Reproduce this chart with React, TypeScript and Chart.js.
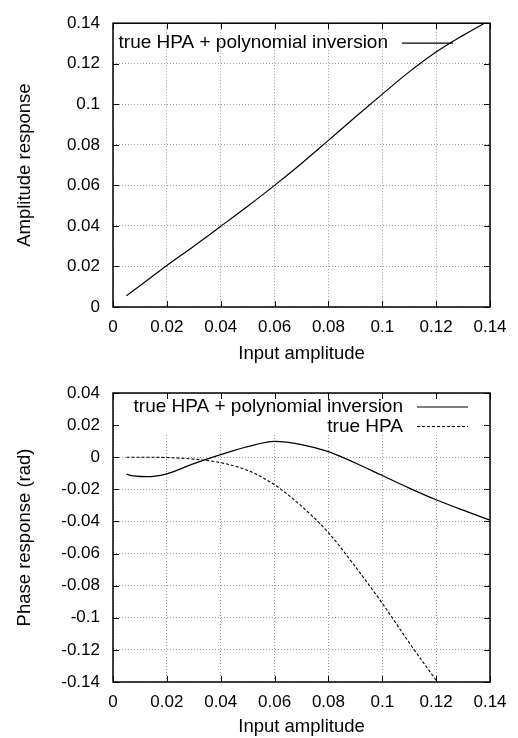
import React, { useEffect, useRef } from "react";
import { Chart, registerables } from "chart.js";

Chart.register(...registerables);

const FONT = "'Liberation Sans', Arial, Helvetica, sans-serif";

// ---------- data ----------
const xTicks = [0, 0.02, 0.04, 0.06, 0.08, 0.1, 0.12, 0.14];
const ampTicks = [0, 0.02, 0.04, 0.06, 0.08, 0.1, 0.12, 0.14];
const phaseTicks = [-0.14, -0.12, -0.1, -0.08, -0.06, -0.04, -0.02, 0, 0.02, 0.04];

const ampX = [0.005, 0.01, 0.02, 0.03, 0.04, 0.05, 0.06, 0.07, 0.08, 0.09, 0.1, 0.11, 0.12, 0.13, 0.14];
const ampY = [0.0055, 0.0105, 0.0205, 0.03, 0.0398, 0.0497, 0.06, 0.0708, 0.0822, 0.0937, 0.105, 0.116, 0.1258, 0.134, 0.1415];

const invX = [0.005, 0.0075, 0.01, 0.0125, 0.015, 0.02, 0.03, 0.04, 0.05, 0.06, 0.07, 0.08, 0.09, 0.1, 0.11, 0.12, 0.13, 0.14];
const invY = [-0.0106, -0.0116, -0.012, -0.0121, -0.0119, -0.0103, -0.004, 0.0016, 0.0066, 0.0099, 0.0079, 0.0035, -0.0036, -0.0114, -0.0192, -0.0265, -0.033, -0.0392];

const hpaX = [0.005, 0.01, 0.02, 0.03, 0.04, 0.05, 0.06, 0.07, 0.08, 0.09, 0.1, 0.11, 0.12];
const hpaY = [0, 0, -0.0002, -0.0012, -0.0034, -0.0082, -0.0172, -0.0305, -0.047, -0.0682, -0.091, -0.1155, -0.139];

const xTitle = "Input amplitude";
const ampTitle = "Amplitude response";
const phaseTitle = "Phase response (rad)";
const invLabel = "true HPA + polynomial inversion";
const hpaLabel = "true HPA";

// ---------- helpers ----------
const fmt = (v: number) => String(Number(v.toFixed(2)));

function gnuFrame(
  legend: { text: string; dash: number[] }[],
  legendRight: number,
  legendTop: number,
  legendStep: number,
  box: { right: number; bottom: number } | null
) {
  return {
    id: "gnuFrame",
    beforeDatasetsDraw(chart: any) {
      if (!box) return;
      const { ctx, chartArea: a } = chart;
      ctx.save();
      ctx.fillStyle = "#fff";
      ctx.fillRect(a.left + 1, a.top + 1, box.right, box.bottom);
      ctx.restore();
    },
    afterDraw(chart: any) {
      const { ctx, chartArea: a, scales } = chart;
      ctx.save();
      // legend
      ctx.font = `19px ${FONT}`;
      ctx.fillStyle = "#000";
      ctx.textAlign = "right";
      ctx.textBaseline = "middle";
      legend.forEach((item, i) => {
        const y = a.top + legendTop + i * legendStep;
        const xr = a.left + legendRight;
        ctx.fillText(item.text, xr, y);
        ctx.beginPath();
        ctx.setLineDash(item.dash);
        ctx.lineWidth = 1.2;
        ctx.strokeStyle = "#000";
        ctx.moveTo(xr + 14, y);
        ctx.lineTo(xr + 65, y);
        ctx.stroke();
      });
      ctx.setLineDash([]);
      // inward ticks
      ctx.strokeStyle = "#000";
      ctx.lineWidth = 1;
      const L = 6;
      ctx.beginPath();
      scales.x.ticks.forEach((t: any) => {
        const px = Math.round(scales.x.getPixelForValue(t.value)) + 0.5;
        ctx.moveTo(px, a.bottom);
        ctx.lineTo(px, a.bottom - L);
        ctx.moveTo(px, a.top);
        ctx.lineTo(px, a.top + L);
      });
      scales.y.ticks.forEach((t: any) => {
        const py = Math.round(scales.y.getPixelForValue(t.value)) + 0.5;
        ctx.moveTo(a.left, py);
        ctx.lineTo(a.left + L, py);
        ctx.moveTo(a.right, py);
        ctx.lineTo(a.right - L, py);
      });
      ctx.stroke();
      // border
      ctx.lineWidth = 1.5;
      ctx.strokeRect(a.left, a.top, a.right - a.left, a.bottom - a.top);
      ctx.restore();
    },
  };
}

function makeScales(yTicks: number[], yTitle: string, xHeight: number) {
  const grid = { color: "#9a9a9a", lineWidth: 1, drawTicks: false };
  return {
    x: {
      type: "linear",
      min: 0,
      max: 0.14,
      afterBuildTicks: (s: any) => {
        s.ticks = xTicks.map((v) => ({ value: v }));
      },
      afterFit: (s: any) => {
        s.height = xHeight;
      },
      grid,
      border: { display: false, dash: [1, 2] },
      ticks: {
        padding: 10,
        color: "#000",
        font: { family: FONT, size: 17 },
        callback: (v: any) => fmt(Number(v)),
        maxRotation: 0,
        autoSkip: false,
      },
      title: {
        display: true,
        text: xTitle,
        color: "#000",
        font: { family: FONT, size: 18.5 },
        padding: { top: 0, bottom: 0 },
      },
    },
    y: {
      type: "linear",
      min: yTicks[0],
      max: yTicks[yTicks.length - 1],
      afterBuildTicks: (s: any) => {
        s.ticks = yTicks.map((v) => ({ value: v }));
      },
      afterFit: (s: any) => {
        s.width = 113;
      },
      grid,
      border: { display: false, dash: [1, 2] },
      ticks: {
        padding: 13,
        color: "#000",
        font: { family: FONT, size: 17 },
        callback: (v: any) => fmt(Number(v)),
        autoSkip: false,
      },
      title: {
        display: true,
        text: yTitle,
        color: "#000",
        font: { family: FONT, size: 18.5 },
        padding: { top: 14, bottom: 0 },
      },
    },
  };
}

function ChartCanvas({ build }: { build: () => any }) {
  const ref = useRef<HTMLCanvasElement | null>(null);
  useEffect(() => {
    const c = new Chart(ref.current as HTMLCanvasElement, build());
    return () => c.destroy();
  }, []);
  return (
    <div style={{ width: 518, height: 369 }}>
      <canvas ref={ref} width={518} height={369} style={{ display: "block" }} />
    </div>
  );
}

const common = {
  animation: false,
  responsive: false,
  devicePixelRatio: 1,
  plugins: { legend: { display: false }, tooltip: { enabled: false } },
  elements: { point: { radius: 0 } },
};

function buildAmp() {
  return {
    type: "line",
    data: {
      datasets: [
        {
          label: invLabel,
          data: ampX.map((x, i) => ({ x, y: ampY[i] })),
          borderColor: "#000",
          borderWidth: 1.2,
          cubicInterpolationMode: "monotone",
          fill: false,
        },
      ],
    },
    options: {
      ...common,
      layout: { padding: { top: 17, right: 28, left: 0, bottom: 4 } },
      scales: makeScales(ampTicks, ampTitle, 58),
    },
    plugins: [gnuFrame([{ text: invLabel, dash: [] }], 275, 20, 19.5, null)],
  };
}

function buildPhase() {
  return {
    type: "line",
    data: {
      datasets: [
        {
          label: invLabel,
          data: invX.map((x, i) => ({ x, y: invY[i] })),
          borderColor: "#000",
          borderWidth: 1.3,
          cubicInterpolationMode: "monotone",
          fill: false,
        },
        {
          label: hpaLabel,
          data: hpaX.map((x, i) => ({ x, y: hpaY[i] })),
          borderColor: "#000",
          borderWidth: 1.1,
          borderDash: [3, 2],
          cubicInterpolationMode: "monotone",
          fill: false,
        },
      ],
    },
    options: {
      ...common,
      layout: { padding: { top: 24, right: 28, left: 0, bottom: 0 } },
      scales: makeScales(phaseTicks, phaseTitle, 56),
    },
    plugins: [
      gnuFrame(
        [
          { text: invLabel, dash: [] },
          { text: hpaLabel, dash: [3, 2] },
        ],
        290,
        14,
        19.5,
        { right: 366, bottom: 41 }
      ),
    ],
  };
}

export default function App() {
  useEffect(() => {
    document.body.style.margin = "0";
  }, []);
  return (
    <div style={{ width: 518, height: 738, background: "#fff" }}>
      <ChartCanvas build={buildAmp} />
      <ChartCanvas build={buildPhase} />
    </div>
  );
}
